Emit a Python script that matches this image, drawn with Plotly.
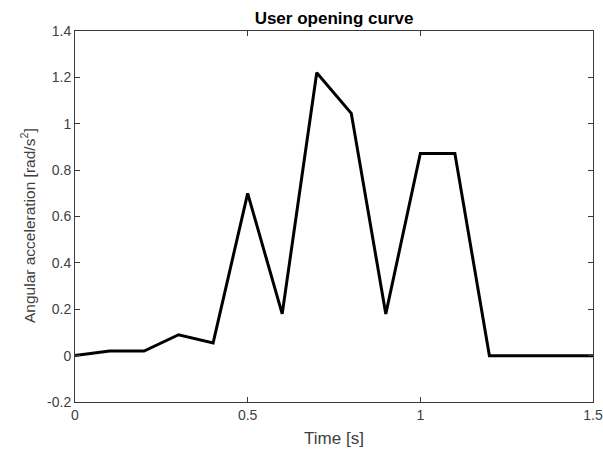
import plotly.graph_objects as go

# Opening curve samples
time_s = [0.0, 0.1, 0.2, 0.3, 0.4, 0.5, 0.6, 0.7, 0.8, 0.9, 1.0, 1.1, 1.2, 1.3, 1.4, 1.5]
ang_acc = [0.0, 0.02, 0.02, 0.09, 0.055, 0.70, 0.18, 1.22, 1.045, 0.18, 0.872, 0.872, 0.0, 0.0, 0.0, 0.0]

x_ticks = [0, 0.5, 1, 1.5]
x_tick_text = ["0", "0.5", "1", "1.5"]
y_ticks = [-0.2, 0, 0.2, 0.4, 0.6, 0.8, 1, 1.2, 1.4]
y_tick_text = ["-0.2", "0", "0.2", "0.4", "0.6", "0.8", "1", "1.2", "1.4"]

axis_color = "#3a3a3a"
text_color = "#404040"
font_family = "Liberation Sans, Arial, sans-serif"

W, H = 603, 452
M_L, M_R, M_T, M_B = 75, 10, 31, 50
plot_w, plot_h = W - M_L - M_R, H - M_T - M_B

fig = go.Figure(
    go.Scatter(
        x=time_s, y=ang_acc, mode="lines",
        line=dict(color="black", width=3, shape="linear"),
        showlegend=False,
    )
)

fig.update_layout(
    width=W, height=H,
    margin=dict(l=M_L, r=M_R, t=M_T, b=M_B),
    paper_bgcolor="white", plot_bgcolor="white",
    font=dict(family=font_family, size=14, color=text_color),
    title=dict(
        text="<b>User opening curve</b>",
        x=(M_L + W - M_R) / 2 / W, xanchor="center", xref="container",
        y=1 - 18.5 / H, yref="container", yanchor="middle",
        font=dict(size=17, color="black", family=font_family),
    ),
)

common = dict(
    showgrid=False, zeroline=False, automargin=False,
    showline=True, linecolor=axis_color, linewidth=1, mirror="ticks",
    ticks="inside", ticklen=5, tickcolor=axis_color, tickwidth=1,
    tickfont=dict(size=14, color=text_color),
)

fig.update_xaxes(
    range=[0, 1.5], tickvals=x_ticks, ticktext=x_tick_text,
    title=dict(text="Time [s]", font=dict(size=17, color=text_color), standoff=10),
    **common,
)
fig.update_yaxes(
    range=[-0.2, 1.4], tickvals=y_ticks, ticktext=y_tick_text,
    **common,
)

# Vertical y-axis label, placed a little below the plot centre
fig.add_annotation(
    text="Angular acceleration [rad/s<sup>2</sup>]",
    textangle=-90, showarrow=False,
    xref="paper", yref="paper",
    x=(28 - M_L) / plot_w, y=(H - M_B - 226) / plot_h,
    xanchor="center", yanchor="middle",
    font=dict(size=15.5, color=text_color, family=font_family),
)

fig.write_html("out.html")
